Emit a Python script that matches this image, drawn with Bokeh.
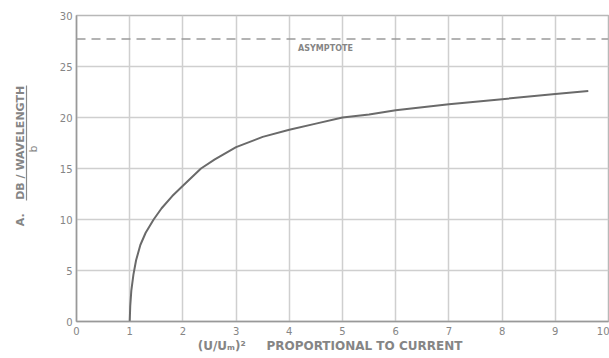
import math
from bokeh.plotting import figure
from bokeh.models import Span, Label, FixedTicker, Range1d, LinearAxis
from bokeh.embed import file_html
from bokeh.resources import INLINE

# ---- data ----
x_vals = [1.0, 1.01, 1.03, 1.07, 1.12, 1.2, 1.3, 1.45, 1.6, 1.8, 2.0, 2.34, 2.6,
          3.0, 3.5, 4.0, 4.5, 5.0, 5.5, 6.0, 7.0, 8.0, 9.0, 9.62]
y_vals = [0.0, 1.5, 3.0, 4.6, 6.0, 7.5, 8.7, 10.0, 11.1, 12.3, 13.3, 15.0, 15.9,
          17.1, 18.1, 18.8, 19.4, 20.0, 20.3, 20.7, 21.3, 21.8, 22.3, 22.6]
asymptote_y = 27.7
x_ticks = [0, 1, 2, 3, 4, 5, 6, 7, 8, 9, 10]
y_ticks = [0, 5, 10, 15, 20, 25, 30]

TXT = "#858585"
FONT = "DejaVu Sans"

p = figure(width=609, height=358, output_backend="svg", toolbar_location=None,
           x_range=Range1d(0, 10), y_range=Range1d(0, 30),
           min_border_left=76, min_border_right=1, min_border_top=15, min_border_bottom=37)

p.background_fill_color = "white"
p.border_fill_color = "white"
p.outline_line_color = "#b8b8b8"
p.outline_line_width = 1.5


def style_axis(ax, size="10px"):
    ax.major_tick_line_color = None
    ax.minor_tick_line_color = None
    ax.major_tick_out = 0
    ax.major_tick_in = 0
    ax.minor_tick_out = 0
    ax.minor_tick_in = 0
    ax.major_label_text_color = TXT
    ax.major_label_text_font = FONT
    ax.major_label_text_font_size = size


for ax in (p.xaxis[0], p.yaxis[0]):
    style_axis(ax)
    ax.axis_line_color = "#999999"
    ax.axis_line_width = 1.5

p.xaxis.ticker = FixedTicker(ticks=x_ticks)
p.yaxis.ticker = FixedTicker(ticks=y_ticks)
p.xaxis.major_label_standoff = 5
p.yaxis.major_label_standoff = 4

p.xgrid.ticker = FixedTicker(ticks=x_ticks)
p.ygrid.ticker = FixedTicker(ticks=y_ticks)
p.xgrid.grid_line_color = "#cfcfcf"
p.ygrid.grid_line_color = "#cfcfcf"
p.xgrid.grid_line_width = 1.5
p.ygrid.grid_line_width = 1.5

# asymptote
p.add_layout(Span(location=asymptote_y, dimension="width", line_color="#9a9a9a",
                  line_dash="9 6", line_width=1.5))
p.add_layout(Label(x=4.68, y=asymptote_y - 0.5, text="ASYMPTOTE", text_align="center",
                   text_baseline="top", text_font=FONT, text_font_size="8px",
                   text_font_style="bold", text_color=TXT))

# curve
p.line(x_vals, y_vals, line_color="#6a6a6a", line_width=2)

# ---- x-axis title (extra axis below the tick labels) ----
xt_pos = [2.73, 5.49]
xt_txt = ["(U/Uₘ)²", "PROPORTIONAL  TO  CURRENT"]
xt = LinearAxis(ticker=FixedTicker(ticks=xt_pos),
                major_label_overrides={xt_pos[0]: xt_txt[0], xt_pos[1]: xt_txt[1]})
style_axis(xt, "12px")
xt.axis_line_color = None
xt.major_label_standoff = 1
xt.major_label_text_font_style = "bold"
p.add_layout(xt, "below")

# ---- y-axis title pieces (extra axes on the left) ----
# spacer: an invisible (white) tick whose length sets the gap
sp = LinearAxis(ticker=FixedTicker(ticks=[0]))
style_axis(sp)
sp.axis_line_color = None
sp.major_tick_line_color = "white"
sp.major_tick_out = 30
sp.major_label_text_color = None
p.add_layout(sp, "left")

# fraction bar (axis line) with the denominator "b" on its inner side
yb = LinearAxis(ticker=FixedTicker(ticks=[17.25]), major_label_overrides={17.25: "b"},
                bounds=(11.9, 23.1))
style_axis(yb, "11px")
yb.axis_line_color = "#8a8a8a"
yb.axis_line_width = 1.2
yb.major_label_orientation = math.pi / 2
yb.major_label_standoff = -7
p.add_layout(yb, "left")

# "A." and numerator
ya_pos = [10.6, 23.1]
ya_txt = ["A.", "DB / WAVELENGTH"]
ya = LinearAxis(ticker=FixedTicker(ticks=ya_pos),
                major_label_overrides={ya_pos[0]: ya_txt[0], ya_pos[1]: ya_txt[1]})
style_axis(ya, "11px")
ya.axis_line_color = None
ya.major_label_orientation = math.pi / 2
ya.major_label_standoff = -3
ya.major_label_text_font_style = "bold"
p.add_layout(ya, "left")

open("out.html", "w").write(file_html(p, INLINE))
